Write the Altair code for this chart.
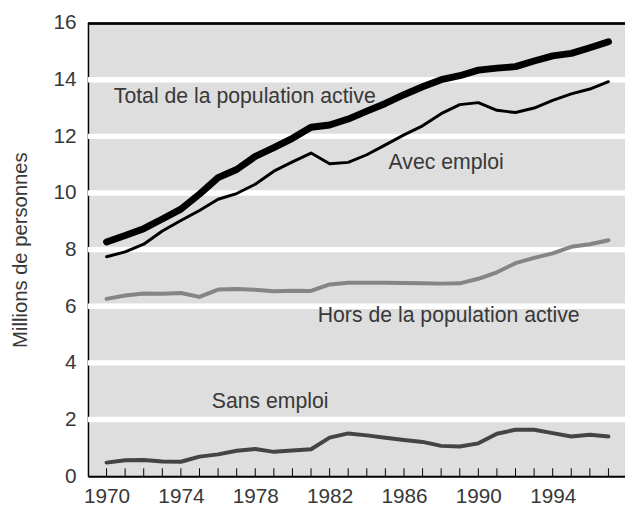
import altair as alt
import pandas as pd

years = list(range(1970, 1998))
total = [8.27, 8.50, 8.74, 9.08, 9.43, 9.96, 10.54, 10.83, 11.29, 11.60, 11.93, 12.32, 12.40,
         12.61, 12.89, 13.16, 13.47, 13.75, 14.00, 14.14, 14.34, 14.41, 14.46, 14.66, 14.84,
         14.93, 15.13, 15.34]
avec_emploi = [7.75, 7.92, 8.19, 8.66, 9.03, 9.38, 9.78, 9.98, 10.31, 10.77, 11.10, 11.41, 11.03,
               11.08, 11.35, 11.70, 12.05, 12.37, 12.80, 13.12, 13.19, 12.92, 12.84, 13.00, 13.27,
               13.50, 13.67, 13.93]
hors = [6.26, 6.38, 6.45, 6.44, 6.47, 6.33, 6.59, 6.61, 6.58, 6.53, 6.55, 6.54, 6.77, 6.83,
        6.83, 6.83, 6.82, 6.81, 6.80, 6.81, 6.97, 7.20, 7.52, 7.71, 7.87, 8.10, 8.19, 8.33]
sans_emploi = [0.48, 0.56, 0.57, 0.52, 0.51, 0.69, 0.77, 0.90, 0.96, 0.86, 0.91, 0.95, 1.36,
               1.51, 1.44, 1.36, 1.28, 1.21, 1.07, 1.05, 1.16, 1.50, 1.64, 1.64, 1.52, 1.40,
               1.46, 1.40]

label_texts = ["Total de la population active", "Avec emploi",
               "Hors de la population active", "Sans emploi"]
label_x = [1970.39, 1985.17, 1981.36, 1975.66]
label_y = [13.18, 10.83, 5.43, 2.40]

y_ticks = [0, 2, 4, 6, 8, 10, 12, 14, 16]
grid_vals = [2, 4, 6, 8, 10, 12, 14]
x_label_vals = [1970, 1974, 1978, 1982, 1986, 1990, 1994]

FONT = "Liberation Sans"
TXT = "#383838"
W, H = 544, 459

xscale = alt.Scale(domain=[1969, 1997.89], nice=False, zero=False)
yscale = alt.Scale(domain=[0, 16], nice=False)

xaxis = alt.Axis(values=x_label_vals, format="d", title=None, ticks=False, grid=False,
                 domainColor="black", domainWidth=2, labelFont=FONT, labelFontSize=21,
                 labelColor=TXT, labelPadding=10)
yaxis = alt.Axis(values=y_ticks, title="Millions de personnes", ticks=False, grid=False,
                 domainColor="black", domainWidth=1.5, labelFont=FONT, labelFontSize=21,
                 labelColor=TXT, labelPadding=12, titleFont=FONT, titleFontSize=20.5,
                 titleFontWeight="normal", titleColor=TXT, titleX=-68, titleY=229.5,
                 titleAngle=-90, titleAlign="center", titleBaseline="middle")

grid_df = pd.DataFrame({"v": grid_vals})
grid = alt.Chart(grid_df).mark_rule(color="white", strokeWidth=5.5).encode(
    y=alt.Y("v:Q", scale=yscale, axis=yaxis)
)

def line(vals, color, width):
    df = pd.DataFrame({"year": years, "val": vals})
    return alt.Chart(df).mark_line(color=color, strokeWidth=width, strokeCap="round",
                                   strokeJoin="round").encode(
        x=alt.X("year:Q", scale=xscale, axis=xaxis),
        y=alt.Y("val:Q", scale=yscale, axis=yaxis),
    )

l_total = line(total, "black", 7)
l_emp = line(avec_emploi, "black", 3)
l_hors = line(hors, "#858585", 4)
l_sans = line(sans_emploi, "#444444", 4)

tick_df = pd.DataFrame({"year": years})
ticks = alt.Chart(tick_df).mark_rule(color="black", strokeWidth=1).encode(
    x=alt.X("year:Q", scale=xscale, axis=xaxis),
    y=alt.value(H),
    y2=alt.value(H - 8),
)

top_border = alt.Chart(grid_df).mark_rule(color="black", strokeWidth=1.5).encode(
    x=alt.value(0), x2=alt.value(W), y=alt.value(0.5)
)

lab_df = pd.DataFrame({"t": label_texts, "x": label_x, "y": label_y})
labels = alt.Chart(lab_df).mark_text(align="left", baseline="alphabetic", font=FONT,
                                     fontSize=21.5, color=TXT).encode(
    x=alt.X("x:Q", scale=xscale, axis=xaxis),
    y=alt.Y("y:Q", scale=yscale, axis=yaxis),
    text="t:N",
)

chart = alt.layer(grid, l_sans, l_hors, l_emp, l_total, ticks, top_border, labels).properties(
    width=W, height=H,
    autosize=alt.AutoSizeParams(type="none"),
    padding={"left": 81, "top": 12, "right": 0, "bottom": 31},
    background="white",
).configure_view(fill="#dedede", stroke="transparent")

chart.save("out.html", embed_options={"renderer": "svg", "actions": False})
